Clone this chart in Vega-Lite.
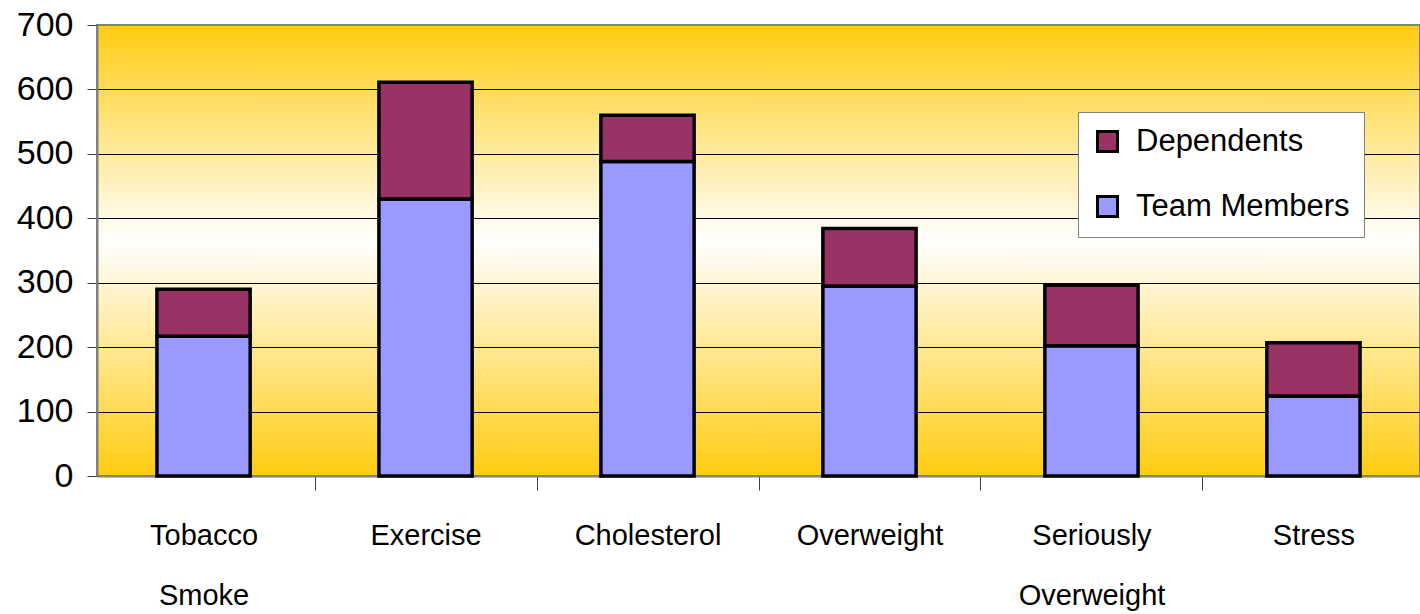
{
  "$schema": "https://vega.github.io/schema/vega-lite/v6.json",
  "width": 1323,
  "height": 451,
  "autosize": "none",
  "padding": {"left": 97, "top": 25, "right": 0, "bottom": 138},
  "background": "white",
  "config": {
    "font": "Liberation Sans",
    "view": {
      "stroke": "#808080",
      "strokeWidth": 2,
      "fill": {
        "gradient": "linear",
        "x1": 0, "y1": 0, "x2": 0, "y2": 1,
        "stops": [
          {"offset": 0, "color": "#FFCC11"},
          {"offset": 0.48, "color": "#FFFFFF"},
          {"offset": 1, "color": "#FFCC11"}
        ]
      }
    }
  },
  "data": {
    "values": [
      {"category": "Tobacco Smoke", "series": "Team Members", "count": 217},
      {"category": "Tobacco Smoke", "series": "Dependents", "count": 73},
      {"category": "Exercise", "series": "Team Members", "count": 430},
      {"category": "Exercise", "series": "Dependents", "count": 181},
      {"category": "Cholesterol", "series": "Team Members", "count": 488},
      {"category": "Cholesterol", "series": "Dependents", "count": 72},
      {"category": "Overweight", "series": "Team Members", "count": 295},
      {"category": "Overweight", "series": "Dependents", "count": 89},
      {"category": "Seriously Overweight", "series": "Team Members", "count": 202},
      {"category": "Seriously Overweight", "series": "Dependents", "count": 94},
      {"category": "Stress", "series": "Team Members", "count": 124},
      {"category": "Stress", "series": "Dependents", "count": 83}
    ]
  },
  "mark": {"type": "bar", "stroke": "black", "strokeWidth": 3.5, "strokeJoin": "miter"},
  "encoding": {
    "x": {
      "field": "category",
      "type": "nominal",
      "sort": null,
      "title": null,
      "scale": {"paddingInner": 0.58, "paddingOuter": 0.27},
      "axis": {
        "labelAngle": 0,
        "labelFontSize": 29,
        "labelColor": "black",
        "labelLineHeight": 60,
        "labelPadding": 31,
        "labelLimit": 300,
        "labelExpr": "datum.value == 'Tobacco Smoke' ? ['Tobacco', 'Smoke'] : datum.value == 'Seriously Overweight' ? ['Seriously', 'Overweight'] : datum.value",
        "tickOffset": 111,
        "labelOffset": -111,
        "tickSize": 14,
        "tickColor": "#404040",
        "domainColor": "#808080",
        "domainWidth": 2
      }
    },
    "y": {
      "field": "count",
      "type": "quantitative",
      "title": null,
      "stack": "zero",
      "scale": {"domain": [0, 700], "nice": false},
      "axis": {
        "values": [0, 100, 200, 300, 400, 500, 600, 700],
        "labelFontSize": 34,
        "labelColor": "black",
        "labelPadding": 14,
        "tickSize": 10,
        "tickColor": "#404040",
        "domainColor": "#808080",
        "domainWidth": 2,
        "grid": true,
        "gridColor": {"condition": {"test": "datum.value === 700", "value": "#808080"}, "value": "black"},
        "gridWidth": 1.2,
        "gridOpacity": 1
      }
    },
    "color": {
      "field": "series",
      "type": "nominal",
      "scale": {"domain": ["Dependents", "Team Members"], "range": ["#993366", "#9999FF"]},
      "legend": {
        "title": null,
        "orient": "none",
        "legendX": 981,
        "legendY": 87,
        "direction": "vertical",
        "fillColor": "white",
        "strokeColor": "#808080",
        "padding": 14,
        "symbolType": "square",
        "symbolSize": 400,
        "symbolStrokeColor": "black",
        "symbolStrokeWidth": 3,
        "symbolOpacity": 1,
        "labelFontSize": 31,
        "labelColor": "black",
        "labelOffset": 13,
        "labelLimit": 400,
        "rowPadding": 32
      }
    },
    "order": {"field": "series", "sort": "descending"}
  }
}
